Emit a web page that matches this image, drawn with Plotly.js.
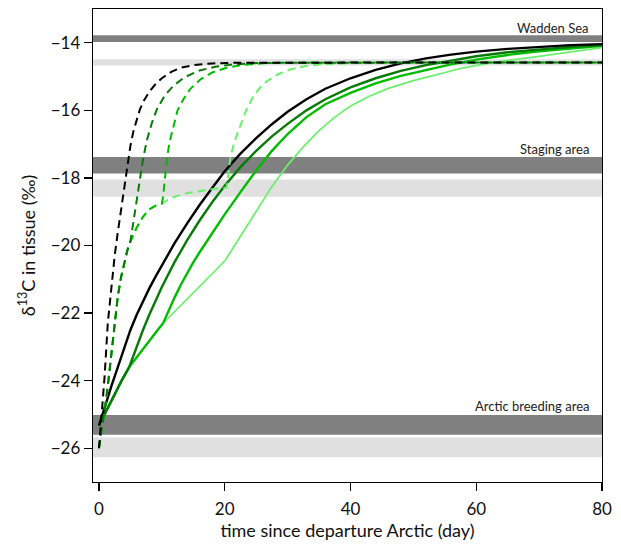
<!DOCTYPE html>
<html>
<head>
<meta charset="utf-8">
<script src="https://cdn.plot.ly/plotly-3.0.1.min.js"></script>
<style>html,body{margin:0;padding:0;background:#fff;}#chart{width:621px;height:544px;}</style>
</head>
<body>
<div id="chart"></div>
<script>
// ---- Data ----
// Solid lines (slow tissue), x = day, y = d13C
const blackSolidX = [0, 1, 2, 3, 4, 5, 6, 7, 8, 9, 10, 12, 14, 16, 18, 20, 22.5, 25, 27.5, 30, 33, 36, 40, 44, 48, 52, 56, 60, 65, 70, 75, 80];
const blackSolidY = [-25.33, -24.72, -24.15, -23.6, -23.05, -22.5, -22.05, -21.65, -21.27, -20.92, -20.58, -19.94, -19.35, -18.8, -18.3, -17.8, -17.28, -16.82, -16.41, -16.04, -15.67, -15.36, -15.05, -14.8, -14.61, -14.46, -14.35, -14.26, -14.18, -14.12, -14.07, -14.04];

const darkSolidX = [0, 1.2, 2.4, 3.6, 4.8, 6, 7, 8, 9, 10, 12, 14, 16, 18, 20, 22.5, 25, 27.5, 30, 33, 36, 40, 44, 48, 52, 56, 60, 65, 70, 75, 80];
const darkSolidY = [-25.33, -24.88, -24.43, -24.0, -23.6, -22.98, -22.5, -22.05, -21.63, -21.23, -20.5, -19.85, -19.26, -18.72, -18.23, -17.68, -17.2, -16.77, -16.4, -16.0, -15.67, -15.32, -15.05, -14.83, -14.66, -14.52, -14.4, -14.28, -14.19, -14.12, -14.07];

const midSolidX = [0, 1.2, 2.4, 3.6, 4.8, 6, 7, 8, 9, 10.2, 11, 12, 13, 14, 15, 16, 18, 20, 22.5, 25, 27.5, 30, 33, 36, 40, 44, 48, 52, 56, 60, 65, 70, 75, 80];
const midSolidY = [-25.33, -24.88, -24.43, -24.0, -23.6, -23.3, -23.06, -22.82, -22.58, -22.3, -21.95, -21.55, -21.17, -20.82, -20.5, -20.2, -19.62, -19.08, -18.42, -17.78, -17.2, -16.7, -16.2, -15.82, -15.48, -15.2, -14.98, -14.8, -14.64, -14.5, -14.36, -14.25, -14.16, -14.09];

const lightSolidX = [0, 1.2, 2.4, 3.6, 4.8, 6, 7, 8, 9, 10.2, 11, 12, 13, 14, 15, 16, 17, 18, 19, 20, 21, 22, 23, 24, 25, 26, 27.2, 28.5, 30, 32.5, 35, 37.5, 40, 43, 46, 50, 54, 58, 62, 66, 70, 75, 80];
const lightSolidY = [-25.33, -24.88, -24.43, -24.0, -23.6, -23.3, -23.06, -22.82, -22.58, -22.3, -22.15, -21.97, -21.78, -21.6, -21.4, -21.2, -21.02, -20.84, -20.65, -20.46, -20.17, -19.87, -19.57, -19.27, -18.97, -18.67, -18.34, -18.0, -17.62, -17.08, -16.6, -16.2, -15.87, -15.58, -15.35, -15.12, -14.92, -14.74, -14.6, -14.49, -14.4, -14.27, -14.14];

// Dashed lines (fast tissue)
const blackDashX = [0, 0.5, 0.9, 1.4, 2, 2.5, 3, 3.5, 4, 4.5, 5, 5.5, 6, 6.5, 7, 8, 9, 10, 11.5, 13, 15, 18, 22, 80];
const blackDashY = [-26.0, -24.85, -23.86, -22.3, -21.1, -20.3, -19.6, -18.95, -18.3, -17.65, -17.05, -16.6, -16.25, -15.98, -15.76, -15.45, -15.22, -15.05, -14.86, -14.74, -14.66, -14.61, -14.59, -14.58];

const darkDashX = [0, 0.5, 1, 1.5, 2, 2.5, 3, 3.5, 4, 4.5, 5, 5.3, 5.6, 6, 6.5, 7, 7.6, 8.4, 9.2, 10.5, 11.8, 13.5, 16, 18.5, 21.4, 25, 30, 80];
const darkDashY = [-26.0, -25.4, -24.75, -24.0, -23.1, -22.2, -21.5, -20.95, -20.5, -20.15, -19.88, -19.5, -19.1, -18.6, -18.0, -17.45, -16.9, -16.38, -15.97, -15.55, -15.28, -15.03, -14.82, -14.71, -14.64, -14.6, -14.59, -14.58];

const midDashX = [0, 0.5, 1, 1.5, 2, 2.5, 3, 3.5, 4, 4.5, 5, 5.5, 6, 7, 8, 9, 10, 10.2, 10.5, 10.8, 11.2, 11.8, 12.5, 13.4, 14.5, 16.1, 18, 20.3, 23, 26.7, 35, 80];
const midDashY = [-26.0, -25.4, -24.75, -24.0, -23.1, -22.2, -21.5, -20.95, -20.5, -20.15, -19.88, -19.66, -19.47, -19.15, -18.93, -18.82, -18.76, -18.55, -18.0, -17.45, -16.95, -16.47, -16.0, -15.68, -15.37, -15.09, -14.88, -14.74, -14.65, -14.6, -14.58, -14.58];

const lightDashX = [0, 0.5, 1, 1.5, 2, 2.5, 3, 3.5, 4, 4.5, 5, 5.5, 6, 7, 8, 9, 10, 11, 12.3, 14, 16.5, 18.5, 20.3, 20.6, 20.9, 21.5, 22.4, 23.4, 24.5, 25.5, 26.7, 28.5, 30.4, 32.5, 35.1, 38, 42, 80];
const lightDashY = [-26.0, -25.4, -24.75, -24.0, -23.1, -22.2, -21.5, -20.95, -20.5, -20.15, -19.88, -19.66, -19.47, -19.15, -18.93, -18.82, -18.76, -18.64, -18.54, -18.45, -18.37, -18.32, -18.29, -17.85, -17.4, -16.95, -16.47, -16.0, -15.6, -15.35, -15.14, -14.93, -14.79, -14.7, -14.64, -14.61, -14.59, -14.58];

// Reference bands (d13C ranges) and their labels
const bandLabels = ["Wadden Sea", "Staging area", "Arctic breeding area"];
const bandLabelY = [-13.55, -17.13, -24.75];
const darkBandLow = [-13.98, -17.87, -25.6];
const darkBandHigh = [-13.78, -17.38, -25.02];
const lightBandLow = [-14.67, -18.56, -26.27];
const lightBandHigh = [-14.49, -18.05, -25.68];

// Axis ticks
const xTicks = [0, 20, 40, 60, 80];
const yTicks = [-14, -16, -18, -20, -22, -24, -26];

// ---- Build chart ----
const C_BLACK = "#000000", C_DARK = "#077a07", C_MID = "#00bd00", C_LIGHT = "#6af06a";
const DASH = "8px,5px";
function tr(x, y, color, width, dash) {
  return {x: x, y: y, type: "scatter", mode: "lines", hoverinfo: "skip", showlegend: false,
    line: {color: color, width: width, dash: dash || "solid", shape: "linear"}};
}
const traces = [
  tr(lightSolidX, lightSolidY, C_LIGHT, 1.7),
  tr(midSolidX, midSolidY, C_MID, 2.4),
  tr(darkSolidX, darkSolidY, C_DARK, 2.4),
  tr(blackSolidX, blackSolidY, C_BLACK, 2.4),
  tr(lightDashX, lightDashY, C_LIGHT, 2, DASH),
  tr(midDashX, midDashY, C_MID, 2, DASH),
  tr(darkDashX, darkDashY, C_DARK, 2, DASH),
  tr(blackDashX, blackDashY, C_BLACK, 2, DASH)
];

const shapes = [];
for (let i = 0; i < bandLabels.length; i++) {
  shapes.push({type: "rect", layer: "below", xref: "paper", yref: "y", x0: 0, x1: 1,
    y0: darkBandLow[i], y1: darkBandHigh[i], fillcolor: "#808080", line: {width: 0}});
  shapes.push({type: "rect", layer: "below", xref: "paper", yref: "y", x0: 0, x1: 1,
    y0: lightBandLow[i], y1: lightBandHigh[i], fillcolor: "#e0e0e0", line: {width: 0}});
}
const annotations = bandLabels.map((t, i) => ({
  text: t, xref: "paper", yref: "y", x: 0.978, y: bandLabelY[i], xanchor: "right", yanchor: "middle",
  showarrow: false, font: {family: "Lato, sans-serif", size: 13, color: "#222"}
}));

const FONT = "Lato, sans-serif";
const layout = {
  width: 621, height: 544,
  margin: {l: 93, r: 19, t: 9, b: 62},
  paper_bgcolor: "#fff", plot_bgcolor: "#fff",
  font: {family: FONT, color: "#111"},
  xaxis: {
    range: [-0.95, 80], tickvals: xTicks, ticktext: xTicks.map(String),
    ticks: "outside", ticklen: 8, tickwidth: 1.3, tickcolor: "#000", ticklabelstandoff: 3,
    showline: true, linecolor: "#000", linewidth: 1.3, mirror: true,
    showgrid: false, zeroline: false,
    tickfont: {family: FONT, size: 17, color: "#111"},
    title: {text: "time since departure Arctic (day)", font: {family: FONT, size: 18, color: "#111"}, standoff: 1}
  },
  yaxis: {
    range: [-27, -13], tickvals: yTicks,
    ticks: "outside", ticklen: 8, tickwidth: 1.3, tickcolor: "#000",
    showline: true, linecolor: "#000", linewidth: 1.3, mirror: true,
    showgrid: false, zeroline: false,
    tickfont: {family: FONT, size: 17, color: "#111"},
    title: {text: "δ<sup>13</sup>C in tissue (‰)", font: {family: FONT, size: 18, color: "#111"}, standoff: 10}
  },
  shapes: shapes,
  annotations: annotations
};
Plotly.newPlot("chart", traces, layout, {displayModeBar: false, staticPlot: true});
</script>
</body>
</html>
